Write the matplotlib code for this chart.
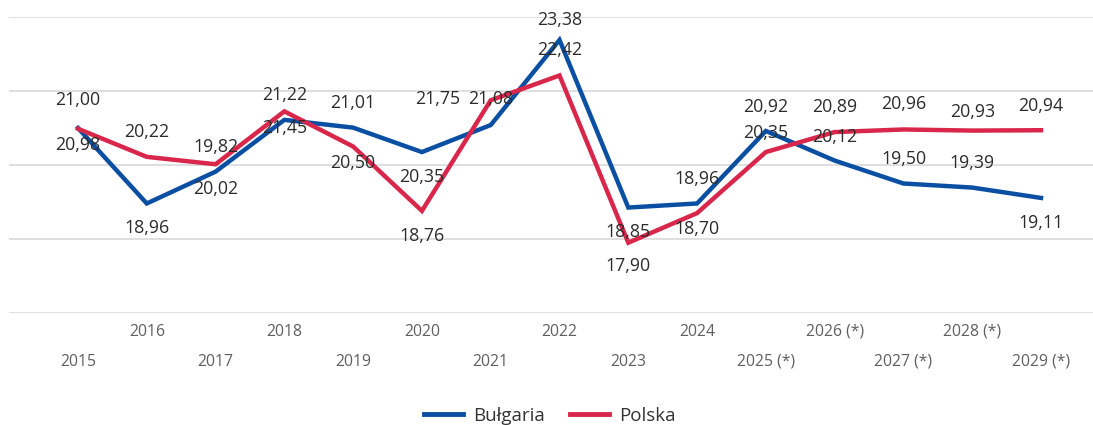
import matplotlib
matplotlib.use("Agg")
import matplotlib.pyplot as plt
from matplotlib.lines import Line2D

# ---- data ----
years = ["2015", "2016", "2017", "2018", "2019", "2020", "2021", "2022", "2023",
         "2024", "2025 (*)", "2026 (*)", "2027 (*)", "2028 (*)", "2029 (*)"]
bulgaria = [21.00, 18.96, 19.82, 21.22, 21.01, 20.35, 21.08, 23.38, 18.85,
            18.96, 20.92, 20.12, 19.50, 19.39, 19.11]
polska = [20.98, 20.22, 20.02, 21.45, 20.50, 18.76, 21.75, 22.42, 17.90,
          18.70, 20.35, 20.89, 20.96, 20.93, 20.94]
series_names = ["Bułgaria", "Polska"]

# ---- style ----
BLUE = "#0b4fa2"
RED = "#d9264b"
GRID = "#dcdcdc"
FONT = ["Open Sans", "DejaVu Sans"]

# label offsets in pixels (dx, dy) ; dy positive = up
b_off = [(0, 28), (0, -25), (0, 25), (0, 25), (0, 25), (0, -25), (0, 26), (0, 20),
         (0, -24), (0, 24), (0, 24), (0, 24), (0, 25), (0, 25), (0, -25)]
p_off = [(0, -16), (0, 25), (0, -25), (0, -17), (0, -17), (0, -25), (-53, 1), (0, 25),
         (0, -23), (0, -16), (0, 19), (0, 25), (0, 25), (0, 19), (0, 24)]

plt.rcParams['font.family'] = FONT

W, H = 1093, 425
fig = plt.figure(figsize=(W / 100, H / 100), dpi=100)
ax_left, ax_right = 9 / W, 1.0
ax_top_px, ax_bot_px = 17, 313
ax = fig.add_axes([ax_left, (H - ax_bot_px) / H, ax_right - ax_left, (ax_bot_px - ax_top_px) / H])

x = list(range(len(years)))
ax.plot(x, bulgaria, color=BLUE, lw=3.2, solid_joinstyle='miter', zorder=3)
ax.plot(x, polska, color=RED, lw=3.2, solid_joinstyle='miter', zorder=3)

ax.set_ylim(16, 24)
ax.set_yticks([16, 18, 20, 22, 24])
ax.set_xlim(-1.003, 14.756)
ax.grid(axis='y', color=GRID, lw=1.3, zorder=0)
ax.set_xticks([])
ax.tick_params(axis='y', length=0, labelleft=False)
for s in ax.spines.values():
    s.set_visible(False)

def fmt(v):
    return f"{v:.2f}".replace(".", ",")

for vals, offs in ((bulgaria, b_off), (polska, p_off)):
    for i, (v, (dx, dy)) in enumerate(zip(vals, offs)):
        ax.annotate(fmt(v), xy=(i, v), xytext=(dx, dy), textcoords='offset pixels',
                    ha='center', va='center', fontsize=12.8, color='#2b2b2b', zorder=5,
                    annotation_clip=False)

# staggered category labels
for i, lab in enumerate(years):
    dy = -19 if i % 2 == 1 else -49
    ax.annotate(lab, xy=(i, 0), xycoords=('data', 'axes fraction'), xytext=(0, dy),
                textcoords='offset pixels', ha='center', va='center', fontsize=11.3,
                color='#5f5f5f', annotation_clip=False)

handles = [Line2D([], [], color=BLUE, lw=3.5), Line2D([], [], color=RED, lw=3.5)]
fig.legend(handles, series_names, loc='center', bbox_to_anchor=(0.503, 1 - 416 / H),
           ncol=2, frameon=False, fontsize=13.5, handlelength=2.1, handletextpad=0.55,
           columnspacing=1.3, borderpad=0, labelcolor='#333333')

fig.savefig("out.png", dpi=100)
